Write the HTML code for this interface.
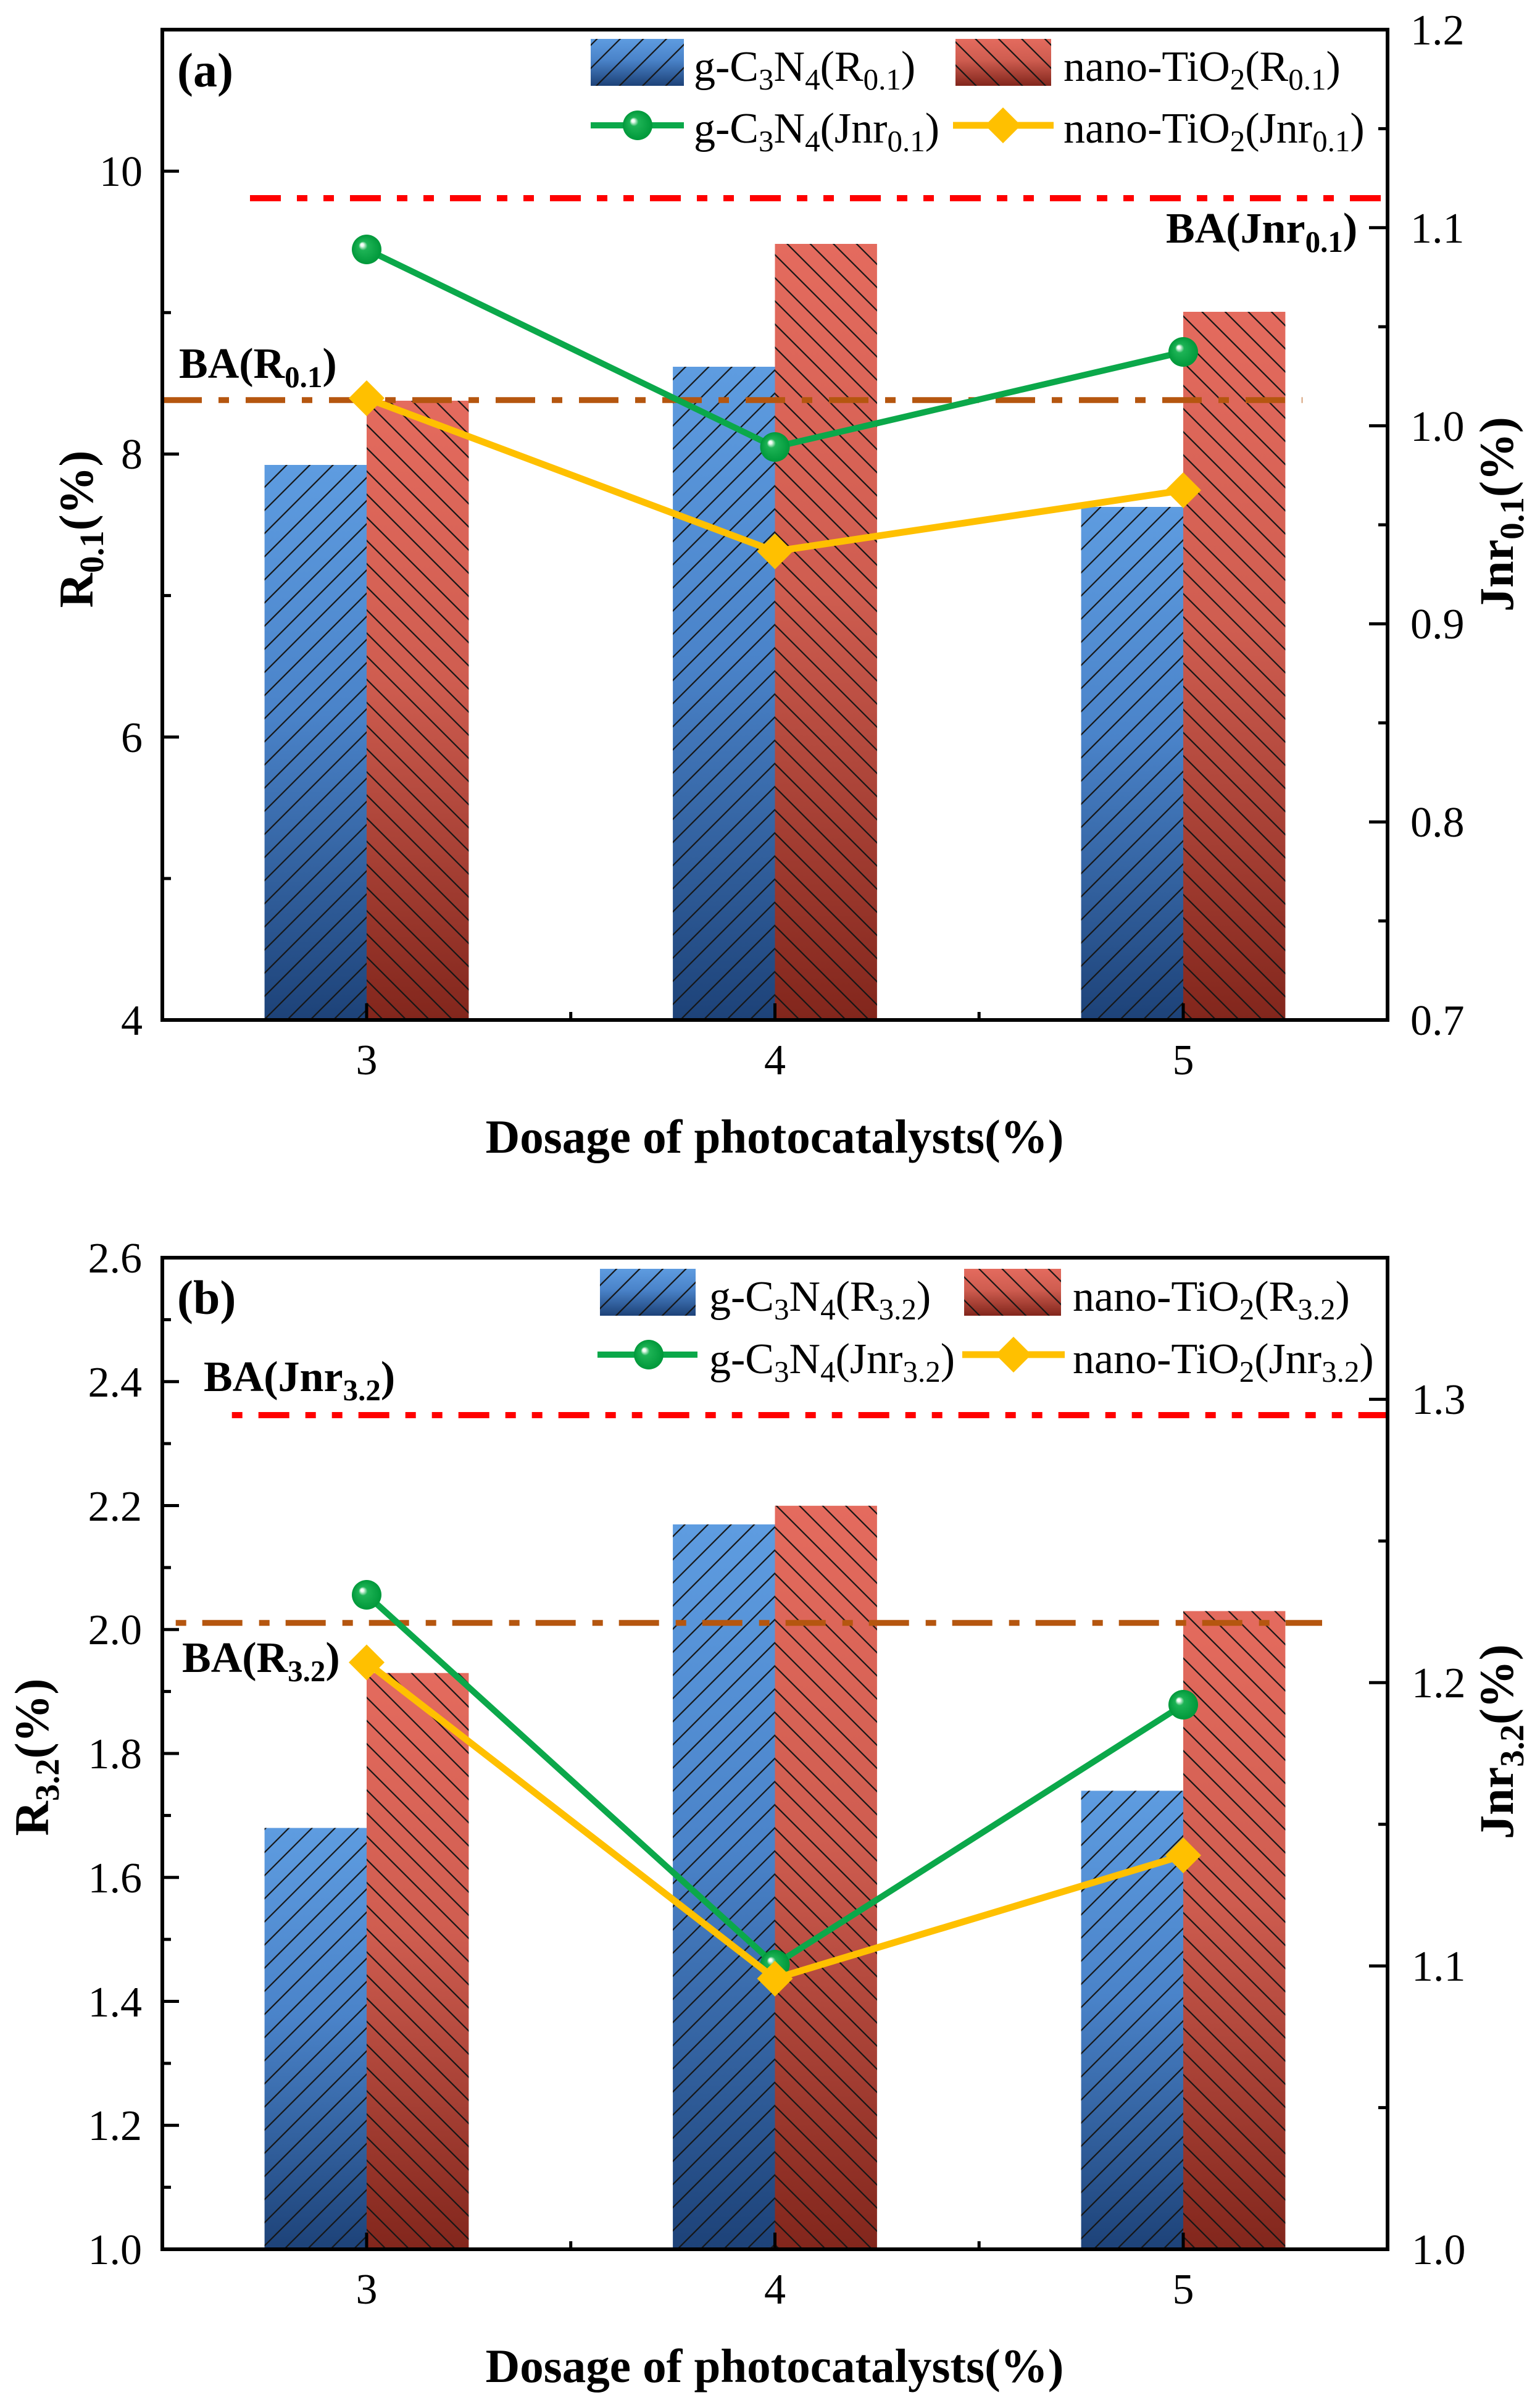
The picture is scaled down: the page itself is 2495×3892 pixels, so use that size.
<!DOCTYPE html>
<html><head><meta charset="utf-8"><style>html,body{margin:0;padding:0;background:#fff}svg{display:block}svg text,svg tspan{font-family:"Liberation Serif","Times New Roman",serif}</style></head><body>
<svg xmlns="http://www.w3.org/2000/svg" width="2495" height="3892" viewBox="0 0 2495 3892" font-family="Liberation Serif, serif">
<defs>
<linearGradient id="gb" x1="0" y1="0" x2="0" y2="1"><stop offset="0" stop-color="#5E9CE0"/><stop offset="0.45" stop-color="#4A83C9"/><stop offset="1" stop-color="#1D4278"/></linearGradient>
<linearGradient id="gr" x1="0" y1="0" x2="0" y2="1"><stop offset="0" stop-color="#E46B5E"/><stop offset="0.45" stop-color="#CF5D50"/><stop offset="1" stop-color="#82261C"/></linearGradient>
<pattern id="hf" patternUnits="userSpaceOnUse" width="26.5" height="26.5" patternTransform="rotate(45)"><line x1="13" y1="-5" x2="13" y2="32" stroke="#151515" stroke-width="2.2"/></pattern>
<pattern id="hb" patternUnits="userSpaceOnUse" width="26.5" height="26.5" patternTransform="rotate(-45)"><line x1="13" y1="-5" x2="13" y2="32" stroke="#151515" stroke-width="2.2"/></pattern>
<radialGradient id="gs" cx="0.5" cy="0.5" r="0.5" fx="0.33" fy="0.33"><stop offset="0" stop-color="#ffffff"/><stop offset="0.1" stop-color="#eefcf2"/><stop offset="0.3" stop-color="#1db355"/><stop offset="1" stop-color="#00983a"/></radialGradient>
</defs>
<rect width="2495" height="3892" fill="#fff"/>

<!-- ============ PANEL A ============ -->
<g>
<rect x="428.6" y="753" width="165.4" height="899" fill="url(#gb)"/><rect x="428.6" y="753" width="165.4" height="899" fill="url(#hf)"/>
<rect x="594" y="649" width="165.4" height="1003" fill="url(#gr)"/><rect x="594" y="649" width="165.4" height="1003" fill="url(#hb)"/>
<rect x="1090.1" y="594" width="165.4" height="1058" fill="url(#gb)"/><rect x="1090.1" y="594" width="165.4" height="1058" fill="url(#hf)"/>
<rect x="1255.5" y="395" width="165.4" height="1257" fill="url(#gr)"/><rect x="1255.5" y="395" width="165.4" height="1257" fill="url(#hb)"/>
<rect x="1751.6" y="821" width="165.4" height="831" fill="url(#gb)"/><rect x="1751.6" y="821" width="165.4" height="831" fill="url(#hf)"/>
<rect x="1917" y="505" width="165.4" height="1147" fill="url(#gr)"/><rect x="1917" y="505" width="165.4" height="1147" fill="url(#hb)"/>
<line x1="405" y1="321" x2="2248" y2="321" stroke="#FF0000" stroke-width="10" stroke-dasharray="50 26 17 26 17 26"/>
<line x1="263" y1="648" x2="2110" y2="648" stroke="#B5560F" stroke-width="9.5" stroke-dasharray="64 27 17 27"/>
<polyline points="594,404 1255.5,724 1917,570" fill="none" stroke="#0BA84A" stroke-width="10" stroke-linejoin="round"/>
<circle cx="594" cy="404" r="24" fill="url(#gs)"/><circle cx="1255.5" cy="724" r="24" fill="url(#gs)"/><circle cx="1917" cy="570" r="24" fill="url(#gs)"/>
<polyline points="594,645 1255.5,893 1917,794" fill="none" stroke="#FFC000" stroke-width="11" stroke-linejoin="round"/>
<polygon points="594,616 623,645 594,674 565,645" fill="#FFC000"/>
<polygon points="1255.5,864 1284.5,893 1255.5,922 1226.5,893" fill="#FFC000"/>
<polygon points="1917,765 1946,794 1917,823 1888,794" fill="#FFC000"/>
<rect x="263" y="48" width="1985" height="1604" fill="none" stroke="#000" stroke-width="6"/>
<g stroke="#000" stroke-width="5">
<line x1="263" y1="1193.7" x2="290" y2="1193.7"/><line x1="263" y1="735.4" x2="290" y2="735.4"/><line x1="263" y1="277.2" x2="290" y2="277.2"/>
<line x1="263" y1="1422.9" x2="277" y2="1422.9"/><line x1="263" y1="964.6" x2="277" y2="964.6"/><line x1="263" y1="506.3" x2="277" y2="506.3"/>
<line x1="2248" y1="1331.2" x2="2218" y2="1331.2"/><line x1="2248" y1="1010.4" x2="2218" y2="1010.4"/><line x1="2248" y1="689.6" x2="2218" y2="689.6"/><line x1="2248" y1="368.8" x2="2218" y2="368.8"/>
<line x1="2248" y1="1491.6" x2="2233" y2="1491.6"/><line x1="2248" y1="1170.8" x2="2233" y2="1170.8"/><line x1="2248" y1="850" x2="2233" y2="850"/><line x1="2248" y1="529.2" x2="2233" y2="529.2"/><line x1="2248" y1="208.4" x2="2233" y2="208.4"/>
<line x1="594" y1="1652" x2="594" y2="1625"/><line x1="1255.5" y1="1652" x2="1255.5" y2="1625"/><line x1="1917" y1="1652" x2="1917" y2="1625"/>
<line x1="924.7" y1="1652" x2="924.7" y2="1639"/><line x1="1586.2" y1="1652" x2="1586.2" y2="1639"/>
</g>
<g font-size="70" fill="#000">
<g text-anchor="end">
<text x="231" y="1676">4</text><text x="231" y="1218">6</text><text x="231" y="759">8</text><text x="231" y="301">10</text>
</g>
<g text-anchor="start">
<text x="2285" y="1676">0.7</text><text x="2285" y="1355">0.8</text><text x="2285" y="1034">0.9</text><text x="2285" y="714">1.0</text><text x="2285" y="393">1.1</text><text x="2285" y="72">1.2</text>
</g>
<g text-anchor="middle">
<text x="594" y="1740">3</text><text x="1255.5" y="1740">4</text><text x="1917" y="1740">5</text>
</g>
</g>
<text x="1255" y="1867" font-size="77" font-weight="bold" text-anchor="middle">Dosage of photocatalysts(%)</text>
<text transform="translate(150,857) rotate(-90)" font-size="78" font-weight="bold" text-anchor="middle">R<tspan font-size="55" dy="17">0.1</tspan><tspan dy="-17">(%)</tspan></text>
<text transform="translate(2451,833) rotate(-90)" font-size="78" font-weight="bold" text-anchor="middle">Jnr<tspan font-size="55" dy="17">0.1</tspan><tspan dy="-17">(%)</tspan></text>
<text x="287" y="140" font-size="78" font-weight="bold">(a)</text>
<text x="290" y="612" font-size="70" font-weight="bold">BA(R<tspan font-size="49" dy="15">0.1</tspan><tspan dy="-15">)</tspan></text>
<text x="1889" y="393" font-size="70" font-weight="bold">BA(Jnr<tspan font-size="49" dy="15">0.1</tspan><tspan dy="-15">)</tspan></text>
<rect x="957" y="63" width="151" height="76" fill="url(#gb)"/><rect x="957" y="63" width="151" height="76" fill="url(#hf)"/>
<rect x="1548" y="63" width="155" height="76" fill="url(#gr)"/><rect x="1548" y="63" width="155" height="76" fill="url(#hb)"/>
<line x1="957" y1="203" x2="1108" y2="203" stroke="#0BA84A" stroke-width="10"/><circle cx="1033" cy="203" r="24" fill="url(#gs)"/>
<line x1="1544" y1="203" x2="1707" y2="203" stroke="#FFC000" stroke-width="11"/><polygon points="1625,174 1654,203 1625,232 1596,203" fill="#FFC000"/>
<g font-size="70">
<text x="1124" y="131">g-C<tspan font-size="49" dy="14">3</tspan><tspan dy="-14">N</tspan><tspan font-size="49" dy="14">4</tspan><tspan dy="-14">(R</tspan><tspan font-size="49" dy="14">0.1</tspan><tspan dy="-14">)</tspan></text>
<text x="1723" y="131">nano-TiO<tspan font-size="49" dy="14">2</tspan><tspan dy="-14">(R</tspan><tspan font-size="49" dy="14">0.1</tspan><tspan dy="-14">)</tspan></text>
<text x="1124" y="231">g-C<tspan font-size="49" dy="14">3</tspan><tspan dy="-14">N</tspan><tspan font-size="49" dy="14">4</tspan><tspan dy="-14">(Jnr</tspan><tspan font-size="49" dy="14">0.1</tspan><tspan dy="-14">)</tspan></text>
<text x="1723" y="231">nano-TiO<tspan font-size="49" dy="14">2</tspan><tspan dy="-14">(Jnr</tspan><tspan font-size="49" dy="14">0.1</tspan><tspan dy="-14">)</tspan></text>
</g>
</g>

<!-- ============ PANEL B ============ -->
<g>
<rect x="428.6" y="2960.6" width="165.4" height="682.4" fill="url(#gb)"/><rect x="428.6" y="2960.6" width="165.4" height="682.4" fill="url(#hf)"/>
<rect x="594" y="2709.7" width="165.4" height="933.3" fill="url(#gr)"/><rect x="594" y="2709.7" width="165.4" height="933.3" fill="url(#hb)"/>
<rect x="1090.1" y="2469" width="165.4" height="1174" fill="url(#gb)"/><rect x="1090.1" y="2469" width="165.4" height="1174" fill="url(#hf)"/>
<rect x="1255.5" y="2438.8" width="165.4" height="1204.2" fill="url(#gr)"/><rect x="1255.5" y="2438.8" width="165.4" height="1204.2" fill="url(#hb)"/>
<rect x="1751.6" y="2900.4" width="165.4" height="742.6" fill="url(#gb)"/><rect x="1751.6" y="2900.4" width="165.4" height="742.6" fill="url(#hf)"/>
<rect x="1917" y="2609.4" width="165.4" height="1033.6" fill="url(#gr)"/><rect x="1917" y="2609.4" width="165.4" height="1033.6" fill="url(#hb)"/>
<line x1="375.7" y1="2292" x2="2248" y2="2292" stroke="#FF0000" stroke-width="10" stroke-dasharray="17 26 50 26 17 26"/>
<line x1="284.7" y1="2628.5" x2="2142" y2="2628.5" stroke="#B5560F" stroke-width="9.5" stroke-dasharray="17 26 65 27"/>
<polyline points="594,2583 1255.5,3182 1917,2761" fill="none" stroke="#0BA84A" stroke-width="10" stroke-linejoin="round"/>
<circle cx="594" cy="2583" r="24" fill="url(#gs)"/><circle cx="1255.5" cy="3182" r="24" fill="url(#gs)"/><circle cx="1917" cy="2761" r="24" fill="url(#gs)"/>
<polyline points="594,2692.5 1255.5,3204.6 1917,3005" fill="none" stroke="#FFC000" stroke-width="11" stroke-linejoin="round"/>
<polygon points="594,2663.5 623,2692.5 594,2721.5 565,2692.5" fill="#FFC000"/>
<polygon points="1255.5,3175.6 1284.5,3204.6 1255.5,3233.6 1226.5,3204.6" fill="#FFC000"/>
<polygon points="1917,2976 1946,3005 1917,3034 1888,3005" fill="#FFC000"/>
<rect x="263" y="2037" width="1985" height="1606" fill="none" stroke="#000" stroke-width="6"/>
<g stroke="#000" stroke-width="5">
<line x1="263" y1="3442.25" x2="290" y2="3442.25"/><line x1="263" y1="3241.5" x2="290" y2="3241.5"/><line x1="263" y1="3040.75" x2="290" y2="3040.75"/><line x1="263" y1="2840" x2="290" y2="2840"/><line x1="263" y1="2639.25" x2="290" y2="2639.25"/><line x1="263" y1="2438.5" x2="290" y2="2438.5"/><line x1="263" y1="2237.75" x2="290" y2="2237.75"/>
<line x1="263" y1="3542.6" x2="277" y2="3542.6"/><line x1="263" y1="3341.9" x2="277" y2="3341.9"/><line x1="263" y1="3141.1" x2="277" y2="3141.1"/><line x1="263" y1="2940.4" x2="277" y2="2940.4"/><line x1="263" y1="2739.6" x2="277" y2="2739.6"/><line x1="263" y1="2538.9" x2="277" y2="2538.9"/><line x1="263" y1="2338.1" x2="277" y2="2338.1"/><line x1="263" y1="2137.4" x2="277" y2="2137.4"/>
<line x1="2248" y1="3184.1" x2="2218" y2="3184.1"/><line x1="2248" y1="2725.3" x2="2218" y2="2725.3"/><line x1="2248" y1="2266.4" x2="2218" y2="2266.4"/>
<line x1="2248" y1="3413.6" x2="2233" y2="3413.6"/><line x1="2248" y1="2954.7" x2="2233" y2="2954.7"/><line x1="2248" y1="2495.9" x2="2233" y2="2495.9"/>
<line x1="594" y1="3643" x2="594" y2="3616"/><line x1="1255.5" y1="3643" x2="1255.5" y2="3616"/><line x1="1917" y1="3643" x2="1917" y2="3616"/>
<line x1="924.7" y1="3643" x2="924.7" y2="3630"/><line x1="1586.2" y1="3643" x2="1586.2" y2="3630"/>
</g>
<g font-size="70" fill="#000">
<g text-anchor="end">
<text x="230" y="3667">1.0</text><text x="230" y="3466">1.2</text><text x="230" y="3266">1.4</text><text x="230" y="3065">1.6</text><text x="230" y="2864">1.8</text><text x="230" y="2663">2.0</text><text x="230" y="2463">2.2</text><text x="230" y="2262">2.4</text><text x="230" y="2061">2.6</text>
</g>
<g text-anchor="start">
<text x="2287" y="3667">1.0</text><text x="2287" y="3208">1.1</text><text x="2287" y="2749">1.2</text><text x="2287" y="2290">1.3</text>
</g>
<g text-anchor="middle">
<text x="594" y="3731">3</text><text x="1255.5" y="3731">4</text><text x="1917" y="3731">5</text>
</g>
</g>
<text x="1255" y="3858" font-size="77" font-weight="bold" text-anchor="middle">Dosage of photocatalysts(%)</text>
<text transform="translate(78,2846) rotate(-90)" font-size="78" font-weight="bold" text-anchor="middle">R<tspan font-size="55" dy="17">3.2</tspan><tspan dy="-17">(%)</tspan></text>
<text transform="translate(2451,2821) rotate(-90)" font-size="78" font-weight="bold" text-anchor="middle">Jnr<tspan font-size="55" dy="17">3.2</tspan><tspan dy="-17">(%)</tspan></text>
<text x="287" y="2128" font-size="78" font-weight="bold">(b)</text>
<text x="330" y="2253" font-size="70" font-weight="bold">BA(Jnr<tspan font-size="49" dy="15">3.2</tspan><tspan dy="-15">)</tspan></text>
<text x="295" y="2708" font-size="70" font-weight="bold">BA(R<tspan font-size="49" dy="15">3.2</tspan><tspan dy="-15">)</tspan></text>
<rect x="972" y="2055" width="155" height="76" fill="url(#gb)"/><rect x="972" y="2055" width="155" height="76" fill="url(#hf)"/>
<rect x="1562" y="2055" width="157" height="76" fill="url(#gr)"/><rect x="1562" y="2055" width="157" height="76" fill="url(#hb)"/>
<line x1="968" y1="2194" x2="1130" y2="2194" stroke="#0BA84A" stroke-width="10"/><circle cx="1051" cy="2194" r="24" fill="url(#gs)"/>
<line x1="1559" y1="2194" x2="1725" y2="2194" stroke="#FFC000" stroke-width="11"/><polygon points="1642,2165 1671,2194 1642,2223 1613,2194" fill="#FFC000"/>
<g font-size="70">
<text x="1149" y="2123">g-C<tspan font-size="49" dy="14">3</tspan><tspan dy="-14">N</tspan><tspan font-size="49" dy="14">4</tspan><tspan dy="-14">(R</tspan><tspan font-size="49" dy="14">3.2</tspan><tspan dy="-14">)</tspan></text>
<text x="1738" y="2123">nano-TiO<tspan font-size="49" dy="14">2</tspan><tspan dy="-14">(R</tspan><tspan font-size="49" dy="14">3.2</tspan><tspan dy="-14">)</tspan></text>
<text x="1149" y="2224">g-C<tspan font-size="49" dy="14">3</tspan><tspan dy="-14">N</tspan><tspan font-size="49" dy="14">4</tspan><tspan dy="-14">(Jnr</tspan><tspan font-size="49" dy="14">3.2</tspan><tspan dy="-14">)</tspan></text>
<text x="1738" y="2224">nano-TiO<tspan font-size="49" dy="14">2</tspan><tspan dy="-14">(Jnr</tspan><tspan font-size="49" dy="14">3.2</tspan><tspan dy="-14">)</tspan></text>
</g>
</g>
</svg>
</body></html>
